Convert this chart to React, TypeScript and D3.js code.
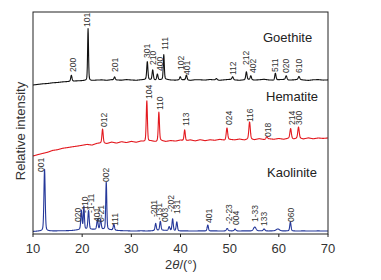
import React from 'react';
import * as d3 from 'd3';

// ---- data ----
const xTicks = [10, 20, 30, 40, 50, 60, 70];
const baseTheta = d3.range(10, 71, 1); // 2θ grid of the baseline readings

// baseline readings (relative intensity, same units as the peaks), 10°..70° every 1°
const goethiteBase = [149, 149.6, 150.2, 150.5, 151.2, 151.5, 152.1, 152.4, 152.8, 153.1, 153.3, 153.6, 153.4, 153.9, 154.1, 153.7, 154.3, 154.0, 153.8, 154.4, 154.0, 153.7, 154.2, 154.5, 154.1, 153.8, 154.2, 154.6, 154.0, 153.8, 154.3, 154.1, 153.6, 154.3, 154.2, 153.9, 154.5, 154.0, 153.7, 154.2, 154.6, 154.0, 153.7, 154.1, 154.4, 153.9, 154.2, 154.7, 154.0, 153.7, 154.3, 154.5, 153.9, 154.1, 154.6, 154.0, 153.6, 154.2, 154.4, 153.9, 154.1];
const hematiteBase = [78, 79.4, 80.6, 81.8, 83.6, 84.3, 85.7, 86.4, 87.2, 87.9, 88.7, 89.6, 88.9, 90.6, 91.1, 90.4, 91.9, 90.9, 92.3, 91.4, 92.6, 91.7, 92.9, 92.1, 93.1, 92.2, 93.5, 92.5, 93.4, 92.9, 93.9, 93.0, 94.1, 93.1, 94.3, 93.3, 94.2, 93.7, 94.6, 93.7, 94.5, 94.1, 94.9, 94.0, 95.1, 94.2, 95.3, 94.4, 95.2, 94.7, 95.5, 94.7, 95.7, 94.9, 95.9, 95.0, 96.1, 95.2, 96.0, 95.6, 96.0];
const kaoliniteBase = [2.5, 2.8, 3, 3, 3, 3.1, 3.2, 3.3, 3.5, 4, 4.5, 4.6, 4.5, 4.5, 4.6, 4.4, 4, 3.5, 3.3, 3.2, 3, 3, 3.2, 3, 3.1, 3.5, 3.8, 3.5, 3.1, 3, 3, 3.1, 3, 3, 3.1, 3, 3, 3.1, 3, 3, 3.1, 3, 3, 3.1, 3, 3, 3.1, 3, 3, 3.1, 3, 3, 3.1, 3, 3, 3.1, 3, 3, 3.1, 3, 3];

// peaks: [2θ, height above baseline, FWHM]
const goethitePeaks: [number, number, number][] = [
  [17.8, 6, 0.3], [21.2, 52, 0.22], [26.6, 3, 0.3], [33.25, 18, 0.28], [34.35, 10, 0.3],
  [35.3, 6, 0.3], [36.6, 25, 0.25], [39.95, 3, 0.3], [41.2, 5, 0.3], [47.3, 1.5, 0.4],
  [50.6, 3, 0.35], [53.4, 8, 0.3], [54.3, 4, 0.3], [59.3, 7, 0.3], [61.5, 4, 0.35], [64.1, 3, 0.35],
];
const hematitePeaks: [number, number, number][] = [
  [24.15, 14, 0.3], [33.15, 41, 0.28], [35.6, 29, 0.28], [40.85, 11, 0.3], [49.45, 12, 0.35],
  [54.05, 17, 0.35], [57.55, 2.5, 0.35], [62.4, 10, 0.35], [64.0, 11, 0.35],
];
const kaolinitePeaks: [number, number, number][] = [
  [12.35, 62, 0.3], [19.85, 19, 0.3], [20.35, 23, 0.25], [21.3, 19, 0.3], [23.1, 10, 0.3],
  [23.75, 10, 0.3], [24.9, 48, 0.25], [26.45, 6, 0.3], [34.95, 7, 0.3], [35.9, 9, 0.3],
  [37.7, 4, 0.35], [38.4, 12, 0.3], [39.25, 9, 0.3], [45.55, 6, 0.3], [49.5, 2.5, 0.4],
  [51.1, 2, 0.4], [55.1, 4, 0.6], [57.0, 2, 0.4], [59.8, 2, 0.8], [62.35, 9, 0.3],
];

// peak labels: [text, 2θ, relative intensity at label foot]
const goethiteLabels: [string, number, number][] = [
  ['200', 18.24, 162], ['101', 20.98, 207], ['201', 26.68, 162], ['301', 33.19, 176],
  ['210', 34.51, 169], ['400', 35.83, 163], ['111', 36.95, 184], ['102', 40.1, 164],
  ['401', 41.42, 159], ['112', 50.58, 159], ['212', 53.42, 169], ['402', 54.75, 161],
  ['511', 59.32, 162], ['020', 61.56, 161], ['610', 64.2, 161],
];
const hematiteLabels: [string, number, number][] = [
  ['012', 24.54, 107], ['104', 33.59, 135], ['110', 35.83, 124], ['113', 41.22, 108],
  ['024', 49.86, 109], ['116', 54.14, 112], ['018', 57.8, 97], ['214', 62.68, 109], ['300', 64.1, 109],
];
const kaoliniteLabels: [string, number, number][] = [
  ['001', 11.73, 62], ['020', 19.15, 12], ['-110', 20.58, 21], ['-1-11', 21.8, 21],
  ['401', 22.92, 12], ['0-21', 23.93, 12], ['002', 24.95, 52], ['111', 26.68, 8],
  ['-201', 34.61, 17], ['-131', 35.63, 14], ['003', 36.85, 12], ['-202', 38.07, 22],
  ['131', 39.29, 20], ['401', 45.8, 11], ['-2-23', 49.86, 10], ['004', 51.29, 9],
  ['1-33', 55.15, 12], ['133', 56.98, 8], ['060', 62.47, 12],
];

const phaseNames = ['Goethite', 'Hematite', 'Kaolinite'];

// ---- layout ----
const W = 381, H = 280;
const L = 33, R = 328, T = 12, B = 234;
const x = d3.scaleLinear().domain([10, 70]).range([L, R]);
const y = d3.scaleLinear().domain([0, 222]).range([B, T]);

function profile(base: number[], peaks: [number, number, number][]) {
  const bs = d3.scaleLinear().domain(baseTheta).range(base);
  const pts: [number, number][] = [];
  for (let i = 0; i <= 1500; i++) {
    const t = 10 + i * 0.04;
    let v = bs(t);
    for (const [p, h, w] of peaks) {
      const u = (t - p) / w;
      v += h * (0.7 * Math.exp(-4 * Math.LN2 * u * u) + 0.3 / (1 + 4 * u * u));
    }
    pts.push([t, v]);
  }
  return pts;
}

const series = [
  { name: phaseNames[0], base: goethiteBase, peaks: goethitePeaks, labels: goethiteLabels, color: '#111111', nx: 263, ny: 42 },
  { name: phaseNames[1], base: hematiteBase, peaks: hematitePeaks, labels: hematiteLabels, color: '#e3191f', nx: 266, ny: 101 },
  { name: phaseNames[2], base: kaoliniteBase, peaks: kaolinitePeaks, labels: kaoliniteLabels, color: '#25389a', nx: 267, ny: 177 },
];

const line = d3.line<[number, number]>().x(d => x(d[0])).y(d => y(d[1]));
const font = 'Liberation Sans, Arial, sans-serif';

export default function App() {
  return (
    <svg width={W} height={H} style={{ position: 'absolute', left: 0, top: 0, background: '#fff' }} fontFamily={font}>
      <rect x={0} y={0} width={W} height={H} fill="#fff" />
      <defs>
        <clipPath id="plot"><rect x={L} y={T} width={R - L} height={B - T} /></clipPath>
      </defs>
      <g clipPath="url(#plot)">
        {series.map(s => (
          <path key={s.name} d={line(profile(s.base, s.peaks)) || ''} fill="none" stroke={s.color} strokeWidth={1.1} strokeLinejoin="round" />
        ))}
      </g>
      {series.map(s => (
        <g key={s.name + 'l'}>
          {s.labels.map(([t, th, v], i) => (
            <text key={i} transform={`translate(${x(th)},${y(v)}) rotate(-90)`} dy="0.35em" fontSize={8.5} fill="#333">{t}</text>
          ))}
          <text x={s.nx} y={s.ny} fontSize={13} fill="#222">{s.name}</text>
        </g>
      ))}
      <rect x={L} y={T} width={R - L} height={B - T} fill="none" stroke="#222" strokeWidth={1} />
      {xTicks.map(t => (
        <g key={t}>
          <line x1={x(t)} x2={x(t)} y1={B} y2={B + 3} stroke="#222" />
          <text x={x(t)} y={253} textAnchor="middle" fontSize={13} fill="#333">{t}</text>
        </g>
      ))}
      <text x={181} y={269} textAnchor="middle" fontSize={13} fill="#333">2<tspan fontStyle="italic">θ</tspan>/(°)</text>
      <text transform="translate(25,131) rotate(-90)" textAnchor="middle" fontSize={13} fill="#333">Relative intensity</text>
    </svg>
  );
}
